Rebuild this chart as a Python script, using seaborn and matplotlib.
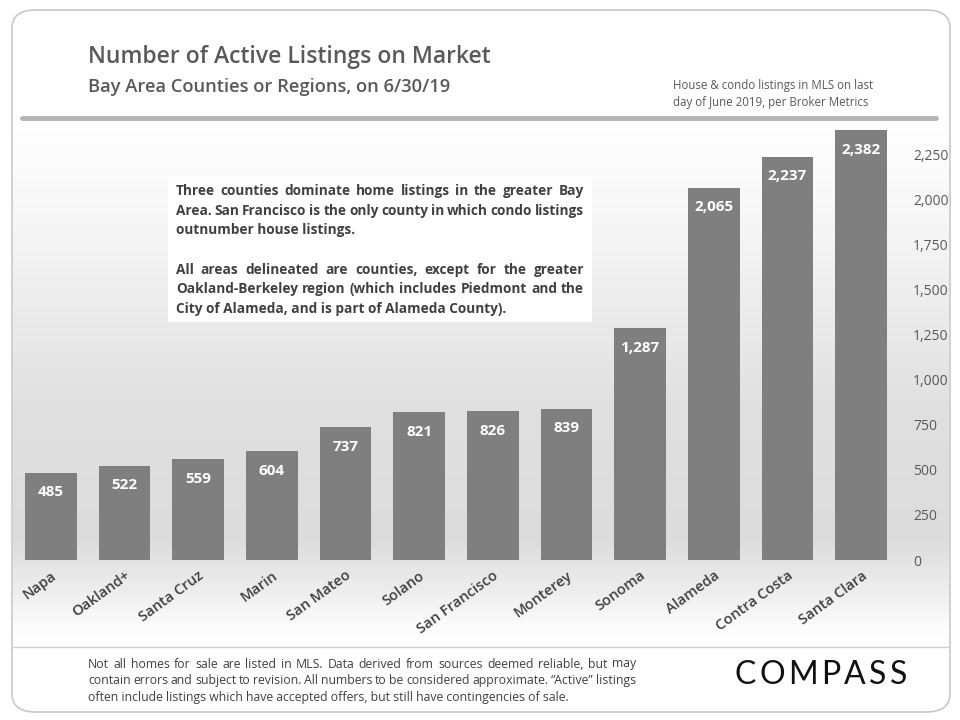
import numpy as np
import pandas as pd
import matplotlib
matplotlib.use("Agg")
import matplotlib.pyplot as plt
from matplotlib.patches import FancyBboxPatch, Rectangle
from matplotlib.ticker import FuncFormatter
import seaborn as sns

# Data
regions = ['Napa', 'Oakland+', 'Santa Cruz', 'Marin', 'San Mateo', 'Solano',
           'San Francisco', 'Monterey', 'Sonoma', 'Alameda', 'Contra Costa', 'Santa Clara']
listings = [485, 522, 559, 604, 737, 821, 826, 839, 1287, 2065, 2237, 2382]
y_ticks = [0, 250, 500, 750, 1000, 1250, 1500, 1750, 2000, 2250]

title = 'Number of Active Listings on Market'
subtitle = 'Bay Area Counties or Regions, on 6/30/19'
side_note = 'House & condo listings in MLS on last\nday of June 2019, per Broker Metrics'
box_paragraphs = [
    ['Three counties dominate home listings in the greater Bay',
     'Area. San Francisco is the only county in which condo listings',
     'outnumber house listings.'],
    ['All areas delineated are counties, except for the greater',
     'Oakland-Berkeley region (which includes Piedmont and the',
     'City of Alameda, and is part of Alameda County).'],
]
footer_lines = [
    'Not all homes for sale are listed in MLS. Data derived from sources deemed reliable, but may',
    'contain errors and subject to revision. All numbers to be considered approximate. \u201cActive\u201d listings',
    'often include listings which have accepted offers, but still have contingencies of sale.',
]
logo = 'COMPASS'

sns.set_theme(style='white')
plt.rcParams['font.family'] = ['Open Sans', 'DejaVu Sans']

W, H = 960, 720
fig = plt.figure(figsize=(W / 100, H / 100), dpi=100)
fig.patch.set_facecolor('white')


def fx(px):
    return px / W


def fy(py):
    return 1 - py / H


# rounded frame
frame = FancyBboxPatch((fx(12), fy(712)), fx(938), (712 - 10) / H,
                       boxstyle='round,pad=0,rounding_size=0.025',
                       transform=fig.transFigure, facecolor='white',
                       edgecolor='#c8c8c8', linewidth=1.2, zorder=-5)
fig.patches.append(frame)

# background gradient in the chart area
bg = fig.add_axes([fx(13), fy(645), fx(936), (645 - 120) / H], zorder=1)
rows = np.linspace(0, 1, 300)
shade = np.interp(rows, [0, 0.2, 0.55, 0.8, 0.9, 0.97, 1.0],
                  [255, 246, 224, 220, 238, 253, 255]) / 255
grad = np.repeat(shade[:, None], 2, axis=1)
bg.imshow(np.dstack([grad, grad, grad]), aspect='auto', extent=[0, 1, 0, 1], origin='upper')
bg.set_axis_off()

# header line and footer separator
fig.add_artist(plt.Line2D([fx(22), fx(936)], [fy(118), fy(118)], color='#b4b4b4', lw=3.5))
fig.add_artist(plt.Line2D([fx(13), fx(949)], [fy(647), fy(647)], color='#d0d0d0', lw=1))

# main bar chart
ax = fig.add_axes([fx(14), fy(560), fx(884), (560 - 120) / H], zorder=2)
ax.patch.set_alpha(0)
df = pd.DataFrame({'region': regions, 'listings': listings})
sns.barplot(data=df, x='region', y='listings', color='#7f7f7f', saturation=1,
            width=0.7, linewidth=0, ax=ax)
ax.set_xlim(-0.5, len(regions) - 0.5)
ax.set_ylim(0, 2440)
ax.set_xlabel('')
ax.set_ylabel('')
for s in ax.spines.values():
    s.set_visible(False)
ax.yaxis.tick_right()
ax.set_yticks(y_ticks)
ax.yaxis.set_major_formatter(FuncFormatter(lambda v, p: f'{int(v):,}'))
ax.tick_params(axis='y', length=0, pad=11, labelsize=10, labelcolor='#595959')
ax.tick_params(axis='x', length=0, pad=6)
ax.set_xticks(range(len(regions)))
ax.set_xticklabels(regions, rotation=36, ha='right', rotation_mode='anchor',
                   fontsize=10.5, fontweight='semibold', color='#404040')
for i, v in enumerate(listings):
    ax.text(i, v - 70, f'{v:,}', ha='center', va='top', color='white',
            fontsize=11, fontweight='bold')

# titles
fig.text(fx(88), fy(57), title, fontsize=16.5, color='#595959', fontweight='semibold',
         va='center')
fig.text(fx(88), fy(87), subtitle, fontsize=13.2, color='#595959', fontweight='semibold',
         va='center')
fig.text(fx(673), fy(94), side_note, fontsize=8.3, color='#595959', va='center',
         linespacing=1.45)

renderer = fig.canvas.get_renderer()


def spread_words(parts, left, right, y, style):
    """Place pieces so they fill left..right exactly (justified)."""
    texts = [fig.text(0, fy(y), p, **style) for p in parts]
    widths = [t.get_window_extent(renderer).width for t in texts]
    gap = (right - left - sum(widths)) / (len(parts) - 1)
    x = left
    for t, wd in zip(texts, widths):
        t.set_x(fx(x))
        x += wd + gap


# comment box with justified text
fig.patches.append(Rectangle((fx(168), fy(322)), fx(424), (322 - 177) / H,
                             transform=fig.transFigure, facecolor='white',
                             edgecolor='none', zorder=3))
box_style = dict(fontsize=9.8, color='#404040', fontweight='bold', va='center',
                 ha='left', zorder=4)
line_y = 191
for para in box_paragraphs:
    for k, line in enumerate(para):
        if k == len(para) - 1:
            fig.text(fx(176), fy(line_y), line, **box_style)
        else:
            spread_words(line.split(' '), 176, 584, line_y, box_style)
        line_y += 19.7
    line_y += 19.7

# footer, justified like the original
foot_style = dict(fontsize=8.8, color='#404040', va='center', ha='left')
for k, line in enumerate(footer_lines):
    y = 664 + k * 16.5
    if k == len(footer_lines) - 1:
        fig.text(fx(88), fy(y), line, **foot_style)
    else:
        spread_words(line.split(' '), 88, 636, y, foot_style)

spread_words(list(logo), 735, 907, 675,
             dict(fontsize=23, color='#111111', va='center', ha='left',
                  fontweight='normal', family=['Lato', 'DejaVu Sans']))

fig.savefig('out.png', dpi=100)
